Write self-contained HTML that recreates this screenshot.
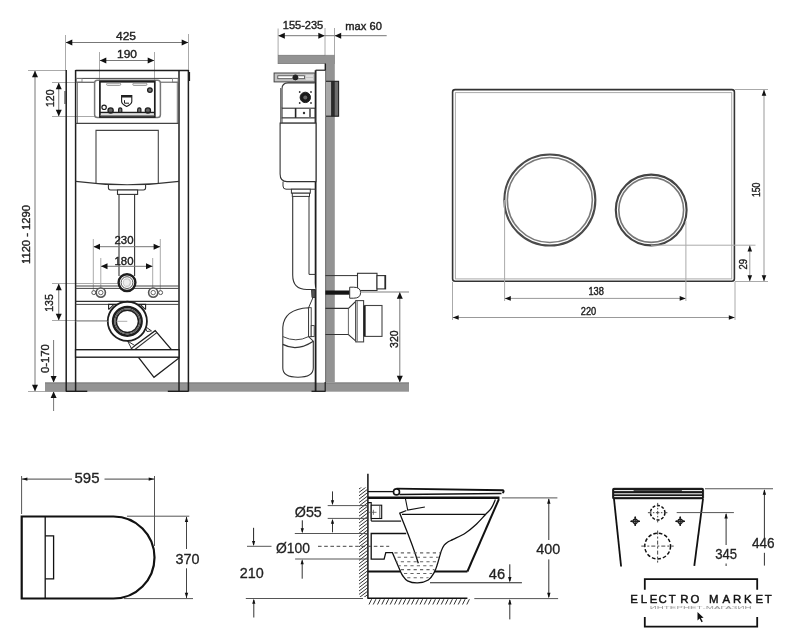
<!DOCTYPE html>
<html><head><meta charset="utf-8"><style>
html,body{margin:0;padding:0;background:#fff;width:795px;height:640px;overflow:hidden}
svg{display:block;will-change:transform;filter:blur(0.3px)}
</style></head><body>
<svg width="795" height="640" viewBox="0 0 795 640">
<defs>
<clipPath id="wallclip"><rect x="358.8" y="487.5" width="8.6" height="109.5"/></clipPath>
<clipPath id="waterclip"><path d="M391,551 L392.4,552.7 L400.5,571.5 C402,575 406,581 417.7,582.5 C428,581 433,574 437,564.5 L440.6,551 Z"/></clipPath>
</defs>
<line x1="65.5" y1="35" x2="65.5" y2="70" stroke="#aaa" stroke-width="1" />
<line x1="188.5" y1="34" x2="188.5" y2="70" stroke="#aaa" stroke-width="1" />
<line x1="66" y1="42.5" x2="188" y2="42.5" stroke="#777" stroke-width="1" />
<polygon points="65.8,42.5 72.3,39.5 72.3,45.5" fill="#111" stroke="none" stroke-width="0"/>
<polygon points="188.2,42.5 181.7,39.5 181.7,45.5" fill="#111" stroke="none" stroke-width="0"/>
<text x="126" y="39.6" font-family="Liberation Sans" font-size="11.5" text-anchor="middle" fill="#222" textLength="20" lengthAdjust="spacingAndGlyphs"  stroke="#222" stroke-width="0.4">425</text>
<line x1="99.5" y1="52" x2="99.5" y2="82" stroke="#aaa" stroke-width="1" />
<line x1="154.5" y1="52" x2="154.5" y2="82" stroke="#aaa" stroke-width="1" />
<line x1="100" y1="60.5" x2="154" y2="60.5" stroke="#777" stroke-width="1" />
<polygon points="99.8,60.5 106.3,57.5 106.3,63.5" fill="#111" stroke="none" stroke-width="0"/>
<polygon points="154.2,60.5 147.7,57.5 147.7,63.5" fill="#111" stroke="none" stroke-width="0"/>
<text x="127" y="57.8" font-family="Liberation Sans" font-size="11.5" text-anchor="middle" fill="#222" textLength="20" lengthAdjust="spacingAndGlyphs"  stroke="#222" stroke-width="0.4">190</text>
<line x1="28" y1="70.5" x2="66" y2="70.5" stroke="#aaa" stroke-width="1" />
<line x1="28" y1="391.5" x2="66" y2="391.5" stroke="#aaa" stroke-width="1" />
<line x1="35" y1="71" x2="35" y2="391" stroke="#777" stroke-width="1" />
<polygon points="35,70.8 32.0,77.3 38.0,77.3" fill="#111" stroke="none" stroke-width="0"/>
<polygon points="35,391.2 32.0,384.7 38.0,384.7" fill="#111" stroke="none" stroke-width="0"/>
<text x="30.3" y="234.5" font-family="Liberation Sans" font-size="11.5" text-anchor="middle" fill="#222" textLength="59" lengthAdjust="spacingAndGlyphs" transform="rotate(-90 30.3 234.5)"  stroke="#222" stroke-width="0.4">1120 - 1290</text>
<line x1="52" y1="82.5" x2="96" y2="82.5" stroke="#aaa" stroke-width="1" />
<line x1="52" y1="116.5" x2="96" y2="116.5" stroke="#aaa" stroke-width="1" />
<line x1="58.75" y1="83" x2="58.75" y2="116" stroke="#777" stroke-width="1" />
<polygon points="58.75,82.7 55.75,89.2 61.75,89.2" fill="#111" stroke="none" stroke-width="0"/>
<polygon points="58.75,116.3 55.75,109.8 61.75,109.8" fill="#111" stroke="none" stroke-width="0"/>
<text x="54.2" y="98.2" font-family="Liberation Sans" font-size="11.5" text-anchor="middle" fill="#222" textLength="17.5" lengthAdjust="spacingAndGlyphs" transform="rotate(-90 54.2 98.2)"  stroke="#222" stroke-width="0.4">120</text>
<line x1="52" y1="283.5" x2="118" y2="283.5" stroke="#aaa" stroke-width="1" />
<line x1="52" y1="320.5" x2="125" y2="320.5" stroke="#aaa" stroke-width="1" />
<line x1="58.75" y1="284" x2="58.75" y2="320" stroke="#777" stroke-width="1" />
<polygon points="58.75,283.7 55.75,290.2 61.75,290.2" fill="#111" stroke="none" stroke-width="0"/>
<polygon points="58.75,320.3 55.75,313.8 61.75,313.8" fill="#111" stroke="none" stroke-width="0"/>
<text x="53.4" y="303" font-family="Liberation Sans" font-size="11.5" text-anchor="middle" fill="#222" textLength="17.5" lengthAdjust="spacingAndGlyphs" transform="rotate(-90 53.4 303)"  stroke="#222" stroke-width="0.4">135</text>
<line x1="53.6" y1="340" x2="53.6" y2="382" stroke="#777" stroke-width="1" />
<polygon points="53.6,382.5 50.6,376.0 56.6,376.0" fill="#111" stroke="none" stroke-width="0"/>
<line x1="53.6" y1="392" x2="53.6" y2="411" stroke="#777" stroke-width="1" />
<polygon points="53.6,391.5 50.6,398.0 56.6,398.0" fill="#111" stroke="none" stroke-width="0"/>
<text x="49" y="358.6" font-family="Liberation Sans" font-size="11.5" text-anchor="middle" fill="#222" textLength="29" lengthAdjust="spacingAndGlyphs" transform="rotate(-90 49 358.6)"  stroke="#222" stroke-width="0.4">0-170</text>
<rect x="45" y="382.5" width="364" height="9.2" fill="#939393"/>
<line x1="45" y1="383" x2="409" y2="383" stroke="#7d7d7d" stroke-width="1" />
<line x1="66.2" y1="70" x2="66.2" y2="391.5" stroke="#1e1e1e" stroke-width="1.5" />
<line x1="75.6" y1="70" x2="75.6" y2="391.5" stroke="#1e1e1e" stroke-width="1.5" />
<line x1="179" y1="70" x2="179" y2="391.5" stroke="#1e1e1e" stroke-width="1.5" />
<line x1="188.4" y1="70" x2="188.4" y2="391.5" stroke="#1e1e1e" stroke-width="1.5" />
<line x1="77.4" y1="82.2" x2="77.4" y2="123.4" stroke="#666" stroke-width="0.9" />
<line x1="177.3" y1="82.2" x2="177.3" y2="123.4" stroke="#666" stroke-width="0.9" />
<line x1="75.6" y1="70.5" x2="188.5" y2="70.5" stroke="#1e1e1e" stroke-width="1.6" />
<line x1="189.3" y1="72" x2="189.3" y2="81" stroke="#1e1e1e" stroke-width="1.6" />
<line x1="65" y1="91" x2="65" y2="104" stroke="#444" stroke-width="1.2" />
<line x1="75.6" y1="78.4" x2="179" y2="78.4" stroke="#444" stroke-width="1" />
<line x1="75.6" y1="82.2" x2="94" y2="82.2" stroke="#555" stroke-width="1" />
<line x1="161" y1="82.2" x2="179" y2="82.2" stroke="#555" stroke-width="1" />
<rect x="76.5" y="78.4" width="5.5" height="3.8" rx="0" fill="none" stroke="#777" stroke-width="0.8" />
<rect x="172.5" y="78.4" width="5.5" height="3.8" rx="0" fill="none" stroke="#777" stroke-width="0.8" />
<rect x="94.6" y="80.3" width="65.8" height="37.2" rx="2.8" fill="#fff" stroke="#777" stroke-width="1.5" />
<rect x="99.9" y="81.4" width="54.9" height="35.6" rx="0" fill="#fff" stroke="#1e1e1e" stroke-width="1.7" />
<line x1="100" y1="81.9" x2="154.6" y2="81.9" stroke="#1e1e1e" stroke-width="1.4" />
<rect x="106.6" y="83.2" width="14.1" height="2.2" rx="1" fill="#f4f4f4" stroke="#888" stroke-width="0.9" />
<rect x="132.8" y="83.2" width="14.1" height="2.2" rx="1" fill="#f4f4f4" stroke="#888" stroke-width="0.9" />
<circle cx="149.9" cy="90.1" r="2.3" fill="#777" stroke="#1e1e1e" stroke-width="1.3" />
<path d="M121.6,95.6 h10.2 v6 q0,2.6 -5.1,4.9 q-5.1,-2.3 -5.1,-4.9 z" fill="#fff" stroke="#1e1e1e" stroke-width="1.1" />
<rect x="121.6" y="95.6" width="10.2" height="1.9" rx="0" fill="#222" stroke="none" stroke-width="0" />
<path d="M124.5,100.2 v3 h4.5" fill="none" stroke="#1e1e1e" stroke-width="1.0" />
<circle cx="104.1" cy="107.3" r="2.2" fill="#fff" stroke="#1e1e1e" stroke-width="1.2" />
<circle cx="110.6" cy="110.5" r="2.6" fill="#666" stroke="#1e1e1e" stroke-width="1.3" />
<path d="M118.6,112 v-2.6 a1.6,1.6 0 0 1 3.2,0 v2.6" fill="#777" stroke="#1e1e1e" stroke-width="1.2" />
<path d="M137.7,112 v-2.6 a1.6,1.6 0 0 1 3.2,0 v2.6" fill="#777" stroke="#1e1e1e" stroke-width="1.2" />
<circle cx="147.9" cy="110.5" r="2.6" fill="#666" stroke="#1e1e1e" stroke-width="1.3" />
<line x1="100" y1="112.5" x2="154.6" y2="112.5" stroke="#1e1e1e" stroke-width="1.3" />
<line x1="100" y1="115.3" x2="154.6" y2="115.3" stroke="#666" stroke-width="1" />
<line x1="75.6" y1="123.4" x2="179" y2="123.4" stroke="#444" stroke-width="1.1" />
<path d="M96,183.2 V130.4 H158.3 V183.2" fill="#fff" stroke="#444" stroke-width="1.1" />
<path d="M75.6,181.3 Q127,188.2 179,181.3" fill="none" stroke="#333" stroke-width="1.2" />
<path d="M108.4,184.3 v3.5 q0,2.2 2.2,2.2 h32.8 q2.2,0 2.2,-2.2 v-3.5" fill="none" stroke="#333" stroke-width="1.1" />
<rect x="117.5" y="190" width="20.1" height="4.4" rx="0" fill="#fff" stroke="#333" stroke-width="1.1" />
<line x1="119" y1="194.4" x2="119" y2="276" stroke="#333" stroke-width="1.1" />
<line x1="134.6" y1="194.4" x2="134.6" y2="276" stroke="#333" stroke-width="1.1" />
<line x1="93.3" y1="239" x2="93.3" y2="292" stroke="#aaa" stroke-width="1" />
<line x1="160.3" y1="239" x2="160.3" y2="292" stroke="#aaa" stroke-width="1" />
<line x1="94" y1="246.7" x2="160" y2="246.7" stroke="#777" stroke-width="1" />
<polygon points="93.5,246.7 100.0,243.7 100.0,249.7" fill="#111" stroke="none" stroke-width="0"/>
<polygon points="160.1,246.7 153.6,243.7 153.6,249.7" fill="#111" stroke="none" stroke-width="0"/>
<text x="124" y="243.9" font-family="Liberation Sans" font-size="11.5" text-anchor="middle" fill="#222" textLength="19" lengthAdjust="spacingAndGlyphs"  stroke="#222" stroke-width="0.4">230</text>
<line x1="100.8" y1="258" x2="100.8" y2="292" stroke="#aaa" stroke-width="1" />
<line x1="152.7" y1="258" x2="152.7" y2="292" stroke="#aaa" stroke-width="1" />
<line x1="101" y1="266.3" x2="152.5" y2="266.3" stroke="#777" stroke-width="1" />
<polygon points="101,266.3 107.5,263.3 107.5,269.3" fill="#111" stroke="none" stroke-width="0"/>
<polygon points="152.5,266.3 146.0,263.3 146.0,269.3" fill="#111" stroke="none" stroke-width="0"/>
<text x="124" y="264.8" font-family="Liberation Sans" font-size="11.5" text-anchor="middle" fill="#222" textLength="19" lengthAdjust="spacingAndGlyphs"  stroke="#222" stroke-width="0.4">180</text>
<line x1="75.6" y1="286.0" x2="179" y2="286.0" stroke="#444" stroke-width="1" />
<line x1="75.6" y1="288.4" x2="179" y2="288.4" stroke="#444" stroke-width="1" />
<line x1="75.6" y1="301.4" x2="179" y2="301.4" stroke="#333" stroke-width="1.3" />
<line x1="75.6" y1="304.4" x2="179" y2="304.4" stroke="#444" stroke-width="1" />
<circle cx="127" cy="282.6" r="8.4" fill="#fff" stroke="#1e1e1e" stroke-width="2.4" />
<circle cx="127" cy="282.6" r="5.9" fill="#fff" stroke="#555" stroke-width="1" />
<circle cx="127" cy="282.6" r="4.3" fill="#c8c8c8" stroke="none" stroke-width="0" />
<path d="M124.5,280 L128,279.2 L130,282 L128.5,285.5 L125,285.8 L123.6,283 Z" fill="#eee" stroke="none" stroke-width="0" />
<circle cx="93.8" cy="292.6" r="2.0" fill="#fff" stroke="#555" stroke-width="1" />
<circle cx="100.8" cy="292.6" r="4.6" fill="#fff" stroke="#555" stroke-width="1.6" />
<circle cx="100.8" cy="292.6" r="2.2" fill="#fff" stroke="#666" stroke-width="1" />
<circle cx="160.6" cy="292.6" r="2.0" fill="#fff" stroke="#555" stroke-width="1" />
<circle cx="153.2" cy="292.6" r="4.6" fill="#fff" stroke="#555" stroke-width="1.6" />
<circle cx="153.2" cy="292.6" r="2.2" fill="#fff" stroke="#666" stroke-width="1" />
<polygon points="131.3,348.2 155.2,330.7 178.7,358.2 154,377.3" fill="#fff" stroke="#1e1e1e" stroke-width="1.3"/>
<line x1="133.6" y1="350.5" x2="156.8" y2="332.6" stroke="#333" stroke-width="1.1" />
<polygon points="144.5,326 151.5,330.9 147,331.5" fill="#fff" stroke="#333" stroke-width="1"/>
<polygon points="127.6,341 131.3,348.2 134.8,345.6" fill="#fff" stroke="#333" stroke-width="1"/>
<path d="M108.6,309.6 V304.4 H145.6 V309.6 M108.6,309.6 L114,304.4 M145.6,309.6 L140.2,304.4" fill="none" stroke="#222" stroke-width="1.1" />
<circle cx="127.35" cy="321.35" r="19.6" fill="#fff" stroke="#1e1e1e" stroke-width="1.8" />
<circle cx="127.35" cy="321.35" r="14.3" fill="#fff" stroke="#1e1e1e" stroke-width="2.5" />
<circle cx="127.35" cy="321.35" r="12.5" fill="none" stroke="#555" stroke-width="1.1" />
<circle cx="127.35" cy="321.35" r="11.1" fill="#fff" stroke="#1e1e1e" stroke-width="1.5" />
<line x1="75.6" y1="321.3" x2="107.7" y2="321.3" stroke="#999" stroke-width="0.8" />
<line x1="116.5" y1="321.3" x2="127.3" y2="321.3" stroke="#999" stroke-width="0.8" />
<rect x="75.6" y="349.7" width="103.4" height="7.5" rx="0" fill="#fff" stroke="#1e1e1e" stroke-width="1.4" />
<line x1="66" y1="391.3" x2="87.3" y2="391.3" stroke="#1e1e1e" stroke-width="1.4" />
<line x1="167.8" y1="391.3" x2="188.5" y2="391.3" stroke="#1e1e1e" stroke-width="1.4" />
<line x1="278.1" y1="28.5" x2="278.1" y2="55" stroke="#aaa" stroke-width="1" />
<line x1="325" y1="28" x2="325" y2="70" stroke="#aaa" stroke-width="1" />
<line x1="334.5" y1="28" x2="334.5" y2="55" stroke="#aaa" stroke-width="1" />
<line x1="278.5" y1="35.7" x2="324.6" y2="35.7" stroke="#777" stroke-width="1" />
<polygon points="278.3,35.7 284.8,32.7 284.8,38.7" fill="#111" stroke="none" stroke-width="0"/>
<polygon points="324.8,35.7 318.3,32.7 318.3,38.7" fill="#111" stroke="none" stroke-width="0"/>
<line x1="334.8" y1="35.7" x2="386.7" y2="35.7" stroke="#777" stroke-width="1" />
<polygon points="334.7,35.7 341.2,32.7 341.2,38.7" fill="#111" stroke="none" stroke-width="0"/>
<line x1="325" y1="35.7" x2="334.5" y2="35.7" stroke="#777" stroke-width="1" />
<text x="303" y="29.4" font-family="Liberation Sans" font-size="11.5" text-anchor="middle" fill="#222" textLength="40.5" lengthAdjust="spacingAndGlyphs"  stroke="#222" stroke-width="0.4">155-235</text>
<text x="363.6" y="29.9" font-family="Liberation Sans" font-size="11.5" text-anchor="middle" fill="#222" textLength="36.5" lengthAdjust="spacingAndGlyphs"  stroke="#222" stroke-width="0.4">max 60</text>
<rect x="278.1" y="55.3" width="56.4" height="8.3" rx="0" fill="#939393" stroke="#7a7a7a" stroke-width="0.8" />
<rect x="325.4" y="55" width="9.4" height="327.5" fill="#939393"/>
<line x1="325.4" y1="63.6" x2="325.4" y2="382.5" stroke="#1e1e1e" stroke-width="1.3" />
<rect x="325.4" y="81.1" width="5.7" height="35.3" fill="#a8a8a8"/>
<rect x="331.1" y="81.1" width="3.8" height="35.3" fill="#2a2a2a"/>
<rect x="334.9" y="81.1" width="3.7" height="35.3" fill="#6e6e6e"/>
<rect x="325.4" y="81.3" width="13.2" height="34.9" rx="0" fill="none" stroke="#222" stroke-width="1.1" />
<rect x="315.6" y="70.2" width="9.8" height="312.3" fill="#fff"/>
<line x1="315.6" y1="70.2" x2="325.4" y2="70.2" stroke="#1e1e1e" stroke-width="1.2" />
<line x1="315.6" y1="70.2" x2="315.6" y2="391.5" stroke="#1e1e1e" stroke-width="1.8" />
<line x1="325.2" y1="382" x2="325.2" y2="391.5" stroke="#1e1e1e" stroke-width="1.2" />
<line x1="311.5" y1="391.3" x2="325.4" y2="391.3" stroke="#1e1e1e" stroke-width="1.3" />
<rect x="274.1" y="73" width="40.8" height="8.9" rx="0" fill="#c4c4c4" stroke="#444" stroke-width="1" />
<rect x="277.8" y="75.8" width="26.8" height="2.9" rx="0" fill="#fff" stroke="#444" stroke-width="0.8" />
<circle cx="295.4" cy="77.4" r="2.5" fill="#222" stroke="#1e1e1e" stroke-width="1" />
<line x1="306" y1="76" x2="313" y2="76" stroke="#eee" stroke-width="1.2" />
<line x1="306" y1="79" x2="313" y2="79" stroke="#eee" stroke-width="1.2" />
<path d="M282,108.2 V89 Q282,82.9 288,82.9 H315" fill="#fff" stroke="#333" stroke-width="1.1" />
<line x1="280.7" y1="88" x2="280.7" y2="126" stroke="#555" stroke-width="1" />
<circle cx="305.3" cy="97.4" r="5.2" fill="#1a1a1a" stroke="#1e1e1e" stroke-width="1" />
<circle cx="305.3" cy="97.4" r="2" fill="#666" stroke="none" stroke-width="0" />
<circle cx="299.7" cy="92" r="0.9" fill="#333" stroke="none" stroke-width="0" />
<circle cx="311" cy="92" r="0.9" fill="#333" stroke="none" stroke-width="0" />
<circle cx="299.7" cy="103" r="0.9" fill="#333" stroke="none" stroke-width="0" />
<circle cx="311" cy="103" r="0.9" fill="#333" stroke="none" stroke-width="0" />
<rect x="282" y="108.2" width="33" height="9.8" rx="0" fill="#fff" stroke="#333" stroke-width="1.1" />
<line x1="295.6" y1="108.2" x2="295.6" y2="118" stroke="#222" stroke-width="1.6" />
<circle cx="304" cy="113" r="1.2" fill="#333" stroke="none" stroke-width="0" />
<line x1="310" y1="109" x2="310" y2="117" stroke="#333" stroke-width="1.4" />
<rect x="282" y="118" width="33" height="5.2" rx="0" fill="#fff" stroke="#444" stroke-width="1" />
<path d="M280.1,123.1 H316 V181.6 H287 Q280.1,181.6 280.1,174 Z" fill="#fff" stroke="#333" stroke-width="1.1" />
<path d="M283,181.6 V186 Q283,189.2 286,189.2 H316" fill="none" stroke="#333" stroke-width="1" />
<rect x="291.4" y="189.2" width="18.9" height="4" rx="0" fill="#fff" stroke="#333" stroke-width="1" />
<rect x="292.3" y="193.2" width="17.2" height="3.2" rx="0" fill="#fff" stroke="#333" stroke-width="1" />
<path d="M292.7,196.4 V275 Q292.7,289.5 307,289.5 H315.6" fill="#fff" stroke="#333" stroke-width="1.1" />
<path d="M309,196.4 V274.4 H315.6" fill="none" stroke="#333" stroke-width="1" />
<line x1="325.4" y1="275.6" x2="357.5" y2="275.6" stroke="#333" stroke-width="1" />
<rect x="357.5" y="273.3" width="19.5" height="17.2" rx="0" fill="#fff" stroke="#333" stroke-width="1.1" />
<rect x="377" y="275.6" width="8.6" height="13.3" rx="0" fill="#fff" stroke="#333" stroke-width="1.1" />
<line x1="385" y1="275.6" x2="385" y2="289" stroke="#1e1e1e" stroke-width="1.2" />
<rect x="325.4" y="290.5" width="24.3" height="4.2" fill="#151515"/>
<path d="M349.7,287.2 h4 q6.9,0 6.9,5.5 q0,5.5 -6.9,5.5 h-4 z" fill="#fff" stroke="#333" stroke-width="1" />
<line x1="360.6" y1="292" x2="409" y2="292" stroke="#999" stroke-width="0.9" />
<rect x="334.8" y="308.4" width="14.5" height="25.8" fill="#fff"/>
<path d="M325.4,308.4 H348.4 L355.8,301.3 V341.1 L348.4,334.5 H325.4" fill="none" stroke="#333" stroke-width="1.1" />
<line x1="348.4" y1="308.4" x2="348.4" y2="334.5" stroke="#555" stroke-width="0.9" />
<rect x="355.8" y="300.6" width="7.8" height="41.3" rx="0" fill="#fff" stroke="#444" stroke-width="1.1" />
<line x1="357.4" y1="301" x2="357.4" y2="341.5" stroke="#666" stroke-width="0.8" />
<rect x="364.6" y="305.5" width="17.4" height="30.9" rx="0" fill="#fff" stroke="#444" stroke-width="1.1" />
<line x1="364.6" y1="305.8" x2="364.6" y2="336.2" stroke="#1e1e1e" stroke-width="2.0" />
<path d="M308.6,307.7 Q284,309 282.8,327.2 V368 Q282.8,377.2 298,377.2 Q313.3,377.2 313.3,368 V341.2 L308.6,336.6 Z" fill="#fff" stroke="#333" stroke-width="1.1" />
<path d="M282.8,336.6 Q296,343 308.6,336.6" fill="none" stroke="#444" stroke-width="1" />
<path d="M282.8,344.4 Q297,352 313.3,341.2" fill="none" stroke="#333" stroke-width="1.3" />
<rect x="308.6" y="307.7" width="2.6" height="29" rx="0" fill="#fff" stroke="#333" stroke-width="0.9" />
<rect x="311.2" y="325.6" width="3" height="11" rx="0" fill="#fff" stroke="#333" stroke-width="0.9" />
<path d="M311.5,289.7 L315,290 L315,297.5 L312,297.5 Z" fill="#555" stroke="#333" stroke-width="0.9" />
<line x1="313" y1="297.5" x2="308.6" y2="307.7" stroke="#333" stroke-width="1" />
<line x1="361" y1="292" x2="409" y2="292" stroke="#aaa" stroke-width="0.9" />
<line x1="399.8" y1="292.5" x2="399.8" y2="382" stroke="#777" stroke-width="1" />
<polygon points="399.8,292.2 396.8,298.7 402.8,298.7" fill="#111" stroke="none" stroke-width="0"/>
<polygon points="399.8,382.3 396.8,375.8 402.8,375.8" fill="#111" stroke="none" stroke-width="0"/>
<text x="398" y="339.2" font-family="Liberation Sans" font-size="11.5" text-anchor="middle" fill="#222" textLength="17.5" lengthAdjust="spacingAndGlyphs" transform="rotate(-90 398 339.2)"  stroke="#222" stroke-width="0.4">320</text>
<rect x="452.6" y="89.6" width="281.8" height="191.7" rx="2.5" fill="#fff" stroke="#333" stroke-width="1.6" />
<rect x="455.4" y="92.6" width="276.3" height="186.3" rx="0" fill="none" stroke="#aaa" stroke-width="1" />
<circle cx="549.85" cy="200" r="45.5" fill="none" stroke="#4a4a4a" stroke-width="2.1" />
<circle cx="549.85" cy="200" r="42.5" fill="none" stroke="#7a7a7a" stroke-width="1.6" />
<circle cx="651.2" cy="210" r="35.4" fill="none" stroke="#444" stroke-width="2.1" />
<circle cx="651.2" cy="210" r="32.4" fill="none" stroke="#777" stroke-width="1.6" />
<line x1="735" y1="89.5" x2="768" y2="89.5" stroke="#aaa" stroke-width="1" />
<line x1="735" y1="281.5" x2="768" y2="281.5" stroke="#aaa" stroke-width="1" />
<line x1="764" y1="90" x2="764" y2="281" stroke="#999" stroke-width="1" />
<polygon points="764,89.8 761.7,95.8 766.3,95.8" fill="#111" stroke="none" stroke-width="0"/>
<polygon points="764,281.2 761.7,275.2 766.3,275.2" fill="#111" stroke="none" stroke-width="0"/>
<text x="759.6" y="189.8" font-family="Liberation Sans" font-size="10.5" text-anchor="middle" fill="#222" textLength="14.5" lengthAdjust="spacingAndGlyphs" transform="rotate(-90 759.6 189.8)"  stroke="#222" stroke-width="0.4">150</text>
<line x1="651" y1="245.2" x2="755.5" y2="245.2" stroke="#aaa" stroke-width="1" />
<line x1="749.8" y1="245.5" x2="749.8" y2="281" stroke="#999" stroke-width="1" />
<polygon points="749.8,245.4 747.5,251.4 752.0999999999999,251.4" fill="#111" stroke="none" stroke-width="0"/>
<polygon points="749.8,281.2 747.5,275.2 752.0999999999999,275.2" fill="#111" stroke="none" stroke-width="0"/>
<text x="746.8" y="264.2" font-family="Liberation Sans" font-size="11" text-anchor="middle" fill="#222" textLength="10.5" lengthAdjust="spacingAndGlyphs" transform="rotate(-90 746.8 264.2)"  stroke="#222" stroke-width="0.4">29</text>
<line x1="504.6" y1="200" x2="504.6" y2="301" stroke="#aaa" stroke-width="1" />
<line x1="685.9" y1="221" x2="685.9" y2="301" stroke="#aaa" stroke-width="1" />
<line x1="505" y1="298.4" x2="685.5" y2="298.4" stroke="#999" stroke-width="1" />
<polygon points="504.8,298.4 510.8,296.09999999999997 510.8,300.7" fill="#111" stroke="none" stroke-width="0"/>
<polygon points="685.7,298.4 679.7,296.09999999999997 679.7,300.7" fill="#111" stroke="none" stroke-width="0"/>
<text x="596.2" y="294.9" font-family="Liberation Sans" font-size="10.5" text-anchor="middle" fill="#222" textLength="15.5" lengthAdjust="spacingAndGlyphs"  stroke="#222" stroke-width="0.4">138</text>
<line x1="452.5" y1="282" x2="452.5" y2="320" stroke="#aaa" stroke-width="1" />
<line x1="735" y1="282" x2="735" y2="320" stroke="#aaa" stroke-width="1" />
<line x1="453" y1="317.5" x2="734.5" y2="317.5" stroke="#999" stroke-width="1" />
<polygon points="452.7,317.5 458.7,315.2 458.7,319.8" fill="#111" stroke="none" stroke-width="0"/>
<polygon points="734.8,317.5 728.8,315.2 728.8,319.8" fill="#111" stroke="none" stroke-width="0"/>
<text x="588.5" y="314.6" font-family="Liberation Sans" font-size="10.5" text-anchor="middle" fill="#222" textLength="15.5" lengthAdjust="spacingAndGlyphs"  stroke="#222" stroke-width="0.4">220</text>
<line x1="21.6" y1="476" x2="21.6" y2="514" stroke="#555" stroke-width="1" />
<line x1="154.5" y1="476" x2="154.5" y2="546" stroke="#555" stroke-width="1" />
<line x1="22" y1="479.1" x2="72" y2="479.1" stroke="#444" stroke-width="1" />
<line x1="104.5" y1="479.1" x2="154" y2="479.1" stroke="#444" stroke-width="1" />
<polygon points="21.9,479.1 27.4,477.40000000000003 27.4,480.8" fill="#111" stroke="none" stroke-width="0"/>
<polygon points="154.2,479.1 148.7,477.40000000000003 148.7,480.8" fill="#111" stroke="none" stroke-width="0"/>
<text x="87" y="483.2" font-family="Liberation Sans" font-size="15.5" text-anchor="middle" fill="#222" textLength="25" lengthAdjust="spacingAndGlyphs"  stroke="#222" stroke-width="0.3">595</text>
<path d="M21.7,516.5 H113.5 A41,41 0 0 1 113.5,598.5 H21.7 Z" fill="none" stroke="#111" stroke-width="2.2" />
<line x1="45.2" y1="516.5" x2="45.2" y2="598.5" stroke="#111" stroke-width="1.3" />
<path d="M45.2,535.8 H53.6 V578.9 H45.2" fill="none" stroke="#111" stroke-width="1.3" />
<line x1="127" y1="516.2" x2="189.3" y2="516.2" stroke="#555" stroke-width="1" />
<line x1="124" y1="598.6" x2="193" y2="598.6" stroke="#555" stroke-width="1" />
<line x1="186.5" y1="517" x2="186.5" y2="549" stroke="#444" stroke-width="1" />
<line x1="186.5" y1="568.3" x2="186.5" y2="598" stroke="#444" stroke-width="1" />
<polygon points="186.5,516.6 184.8,522.1 188.2,522.1" fill="#111" stroke="none" stroke-width="0"/>
<polygon points="186.5,598.2 184.8,592.7 188.2,592.7" fill="#111" stroke="none" stroke-width="0"/>
<text x="187.5" y="564" font-family="Liberation Sans" font-size="15.5" text-anchor="middle" fill="#222" textLength="24" lengthAdjust="spacingAndGlyphs"  stroke="#222" stroke-width="0.3">370</text>
<path d="M359,489.0 L367.5,482.5 M359,492.4 L367.5,485.9 M359,495.8 L367.5,489.3 M359,499.2 L367.5,492.7 M359,502.6 L367.5,496.1 M359,506.0 L367.5,499.5 M359,509.4 L367.5,502.9 M359,512.8 L367.5,506.3 M359,516.2 L367.5,509.7 M359,519.6 L367.5,513.1 M359,523.0 L367.5,516.5 M359,526.4 L367.5,519.9 M359,529.8 L367.5,523.3 M359,533.2 L367.5,526.7 M359,536.6 L367.5,530.1 M359,540.0 L367.5,533.5 M359,543.4 L367.5,536.9 M359,546.8 L367.5,540.3 M359,550.2 L367.5,543.7 M359,553.6 L367.5,547.1 M359,557.0 L367.5,550.5 M359,560.4 L367.5,553.9 M359,563.8 L367.5,557.3 M359,567.2 L367.5,560.7 M359,570.6 L367.5,564.1 M359,574.0 L367.5,567.5 M359,577.4 L367.5,570.9 M359,580.8 L367.5,574.3 M359,584.2 L367.5,577.7 M359,587.6 L367.5,581.1 M359,591.0 L367.5,584.5 M359,594.4 L367.5,587.9 M359,597.8 L367.5,591.3 M359,601.2 L367.5,594.7 M359,604.6 L367.5,598.1 M359,608.0 L367.5,601.5" fill="none" stroke="#333" stroke-width="1.0" clip-path="url(#wallclip)"/>
<line x1="367.9" y1="473.8" x2="367.9" y2="598.8" stroke="#111" stroke-width="1.5" />
<line x1="367.8" y1="598.3" x2="467.4" y2="598.3" stroke="#111" stroke-width="1.4" />
<path d="M369.0,604.5 L371.6,599.2 M373.2,604.5 L375.9,599.2 M377.5,604.5 L380.1,599.2 M381.8,604.5 L384.4,599.2 M386.0,604.5 L388.6,599.2 M390.2,604.5 L392.9,599.2 M394.5,604.5 L397.1,599.2 M398.8,604.5 L401.4,599.2 M403.0,604.5 L405.6,599.2 M407.2,604.5 L409.9,599.2 M411.5,604.5 L414.1,599.2 M415.8,604.5 L418.4,599.2 M420.0,604.5 L422.6,599.2 M424.2,604.5 L426.9,599.2 M428.5,604.5 L431.1,599.2 M432.8,604.5 L435.4,599.2 M437.0,604.5 L439.6,599.2 M441.2,604.5 L443.9,599.2 M445.5,604.5 L448.1,599.2 M449.8,604.5 L452.4,599.2 M454.0,604.5 L456.6,599.2 M458.2,604.5 L460.9,599.2 M462.5,604.5 L465.1,599.2 M466.8,604.5 L469.4,599.2" fill="none" stroke="#333" stroke-width="1" />
<line x1="368" y1="491.6" x2="393" y2="491.6" stroke="#111" stroke-width="1.3" />
<path d="M396.5,488.6 L503,490.3 Q504.5,491.5 502.5,493" fill="none" stroke="#111" stroke-width="1.9" />
<path d="M399.5,494.6 L501.5,493.6" fill="none" stroke="#111" stroke-width="1.5" />
<line x1="368" y1="497.8" x2="499.5" y2="497.8" stroke="#111" stroke-width="2.4" />
<circle cx="396.5" cy="491.9" r="3.0" fill="#fff" stroke="#111" stroke-width="1.6" />
<path d="M405.5,499 L407.7,510.1 L424.9,507" fill="none" stroke="#111" stroke-width="1.1" />
<path d="M406.4,510.5 L399.8,513.2 C403,522 412,542 418.3,563.2" fill="none" stroke="#111" stroke-width="1.3" />
<line x1="402" y1="514.3" x2="485.3" y2="514.3" stroke="#111" stroke-width="1.2" />
<path d="M498.9,499.1 L467.4,571.5" fill="none" stroke="#111" stroke-width="2.0" />
<path d="M495.4,499.5 C494.72,500.95 492.98,505.67 491.30,508.20 C489.62,510.73 487.98,511.85 485.30,514.70 C482.62,517.55 478.55,522.20 475.20,525.30 C471.85,528.40 468.88,530.95 465.20,533.30 C461.52,535.65 456.05,537.92 453.10,539.40 C450.15,540.88 448.98,541.23 447.50,542.20 C446.02,543.17 445.22,543.80 444.20,545.20 C443.18,546.60 442.55,547.38 441.40,550.60 C440.25,553.82 438.52,560.82 437.30,564.50 C436.08,568.18 435.60,570.12 434.10,572.70 C432.60,575.28 431.03,578.30 428.30,580.00 C425.57,581.70 421.17,582.77 417.70,582.90 C414.23,583.03 410.02,582.03 407.50,580.80 C404.98,579.57 403.77,577.05 402.60,575.50 C401.43,573.95 400.85,572.17 400.50,571.50 L392.4,552.7 H385.8 L384.1,559.1 H371.2 V533.5 H406.2" fill="none" stroke="#111" stroke-width="1.3" />
<path d="M368,502.6 H371.2 V521.1" fill="none" stroke="#111" stroke-width="1.1" />
<rect x="371.2" y="505.2" width="10.5" height="13.3" rx="0" fill="#fff" stroke="#111" stroke-width="1.1" />
<line x1="379.8" y1="505.5" x2="379.8" y2="518.2" stroke="#444" stroke-width="0.9" />
<line x1="368" y1="512.3" x2="376.5" y2="512.3" stroke="#555" stroke-width="0.8" />
<line x1="373.4" y1="509.8" x2="373.4" y2="514.8" stroke="#555" stroke-width="0.8" />
<line x1="371.2" y1="521.1" x2="401.1" y2="521.1" stroke="#111" stroke-width="1.2" />
<line x1="367.9" y1="571.5" x2="400.8" y2="571.5" stroke="#111" stroke-width="2.0" />
<line x1="434.0" y1="571.5" x2="467.4" y2="571.5" stroke="#111" stroke-width="2.0" />
<path d="M388,552.9 H446 M391.2,557.3 H446 M388,561.7 H446 M391.2,565.8 H446 M388,569.6 H446 M391.2,573.5 H446 M388,577.8 H446" fill="none" stroke="#666" stroke-width="1.1" stroke-dasharray="3.2 3.2" clip-path="url(#waterclip)"/>
<line x1="318" y1="546.3" x2="389.2" y2="546.3" stroke="#444" stroke-width="1" stroke-dasharray="3.6 2.6"/>
<line x1="327.7" y1="505.6" x2="367" y2="505.6" stroke="#555" stroke-width="1" />
<line x1="327.7" y1="518.4" x2="367" y2="518.4" stroke="#555" stroke-width="1" />
<line x1="332.5" y1="491.4" x2="332.5" y2="504" stroke="#333" stroke-width="1" />
<polygon points="332.5,505.3 330.9,500.3 334.1,500.3" fill="#111" stroke="none" stroke-width="0"/>
<line x1="332.5" y1="520" x2="332.5" y2="532.3" stroke="#333" stroke-width="1" />
<polygon points="332.5,518.7 330.9,523.7 334.1,523.7" fill="#111" stroke="none" stroke-width="0"/>
<text x="308.3" y="517.1" font-family="Liberation Sans" font-size="15" text-anchor="middle" fill="#222" textLength="27" lengthAdjust="spacingAndGlyphs"  stroke="#222" stroke-width="0.3">Ø55</text>
<line x1="294.8" y1="533.5" x2="367" y2="533.5" stroke="#555" stroke-width="1" />
<line x1="302.3" y1="520.3" x2="302.3" y2="532" stroke="#222" stroke-width="1.0" />
<polygon points="302.3,533.2 300.7,528.2 303.90000000000003,528.2" fill="#111" stroke="none" stroke-width="0"/>
<line x1="247" y1="546.3" x2="271.5" y2="546.3" stroke="#555" stroke-width="1" />
<line x1="253.6" y1="527.8" x2="253.6" y2="545" stroke="#222" stroke-width="1.0" />
<polygon points="253.6,546 252.0,541 255.2,541" fill="#111" stroke="none" stroke-width="0"/>
<text x="292.9" y="552.7" font-family="Liberation Sans" font-size="15" text-anchor="middle" fill="#222" textLength="34" lengthAdjust="spacingAndGlyphs"  stroke="#222" stroke-width="0.3">Ø100</text>
<line x1="295.1" y1="559" x2="367" y2="559" stroke="#555" stroke-width="1" />
<line x1="302.2" y1="560.5" x2="302.2" y2="578.7" stroke="#333" stroke-width="1" />
<polygon points="302.2,559.3 300.59999999999997,564.3 303.8,564.3" fill="#111" stroke="none" stroke-width="0"/>
<text x="251.8" y="577.9" font-family="Liberation Sans" font-size="15.5" text-anchor="middle" fill="#222" textLength="24" lengthAdjust="spacingAndGlyphs"  stroke="#222" stroke-width="0.3">210</text>
<line x1="245.8" y1="598.5" x2="363" y2="598.5" stroke="#555" stroke-width="1" />
<line x1="253.8" y1="600" x2="253.8" y2="617.5" stroke="#333" stroke-width="1" />
<polygon points="253.8,598.8 252.20000000000002,603.8 255.4,603.8" fill="#111" stroke="none" stroke-width="0"/>
<line x1="501.9" y1="497.9" x2="557.4" y2="497.9" stroke="#555" stroke-width="1" />
<line x1="548.8" y1="499" x2="548.8" y2="540" stroke="#333" stroke-width="1" />
<polygon points="548.8,498.3 547.0999999999999,503.8 550.5,503.8" fill="#111" stroke="none" stroke-width="0"/>
<line x1="548.8" y1="559.4" x2="548.8" y2="597" stroke="#333" stroke-width="1" />
<polygon points="548.8,598.3 547.0999999999999,592.8 550.5,592.8" fill="#111" stroke="none" stroke-width="0"/>
<text x="548.3" y="554.3" font-family="Liberation Sans" font-size="15.5" text-anchor="middle" fill="#222" textLength="24" lengthAdjust="spacingAndGlyphs"  stroke="#222" stroke-width="0.3">400</text>
<line x1="430" y1="582.8" x2="521.9" y2="582.8" stroke="#222" stroke-width="1.1" />
<line x1="509.8" y1="564.3" x2="509.8" y2="581" stroke="#222" stroke-width="1.0" />
<polygon points="509.8,582.6 508.1,577.1 511.5,577.1" fill="#111" stroke="none" stroke-width="0"/>
<text x="496.9" y="578.7" font-family="Liberation Sans" font-size="15.5" text-anchor="middle" fill="#222" textLength="16.3" lengthAdjust="spacingAndGlyphs"  stroke="#222" stroke-width="0.3">46</text>
<line x1="474.3" y1="598.6" x2="558.1" y2="598.6" stroke="#555" stroke-width="1" />
<line x1="509.8" y1="600" x2="509.8" y2="619.4" stroke="#333" stroke-width="1" />
<polygon points="509.8,599 508.1,604.5 511.5,604.5" fill="#111" stroke="none" stroke-width="0"/>
<path d="M612.7,488.2 H703.4 V498.9 H612.7 Z" fill="#1a1a1a" stroke="none" stroke-width="0" />
<path d="M614,488.2 H702 Q703.6,488.2 703.6,490 V497.5 Q703.6,498.9 702,498.9 H614 Q612.5,498.9 612.5,497.5 V490 Q612.5,488.2 614,488.2 Z" fill="#1a1a1a" stroke="#111" stroke-width="0.6" />
<line x1="614.2" y1="490.6" x2="633.8" y2="490.6" stroke="#fff" stroke-width="1.0" />
<line x1="681.6" y1="490.6" x2="702" y2="490.6" stroke="#fff" stroke-width="1.0" />
<line x1="633.8" y1="490.6" x2="681.6" y2="490.6" stroke="#555" stroke-width="1.0" />
<line x1="614.2" y1="493.8" x2="702" y2="493.8" stroke="#fff" stroke-width="1.0" />
<line x1="614.2" y1="496.6" x2="702" y2="496.6" stroke="#fff" stroke-width="1.0" />
<line x1="614" y1="499" x2="621.1" y2="566.5" stroke="#111" stroke-width="1.8" />
<line x1="703" y1="499" x2="694.3" y2="565.8" stroke="#111" stroke-width="1.8" />
<circle cx="657.7" cy="512.7" r="7.2" fill="none" stroke="#111" stroke-width="1.5" stroke-dasharray="3 1.7"/>
<line x1="647.9" y1="512.7" x2="668.3" y2="512.7" stroke="#444" stroke-width="1" stroke-dasharray="3.5 1.5 1.5 1.5"/>
<line x1="657.7" y1="502.9" x2="657.7" y2="523.3" stroke="#444" stroke-width="1" stroke-dasharray="3.5 1.5 1.5 1.5"/>
<circle cx="657.65" cy="546.1" r="12.9" fill="none" stroke="#111" stroke-width="1.5" stroke-dasharray="3.6 2"/>
<line x1="641.3" y1="546.1" x2="673.7" y2="546.1" stroke="#444" stroke-width="1" stroke-dasharray="4 2 2 2"/>
<line x1="657.65" y1="530.6" x2="657.65" y2="562.6" stroke="#444" stroke-width="1" stroke-dasharray="4 2 2 2"/>
<circle cx="635.2" cy="521.3" r="2.2" fill="none" stroke="#111" stroke-width="1.2" />
<line x1="630.4000000000001" y1="521.3" x2="640.0" y2="521.3" stroke="#222" stroke-width="1.3" />
<line x1="635.2" y1="516.5" x2="635.2" y2="526.1" stroke="#222" stroke-width="1.3" />
<polygon points="630.4000000000001,521.3 632.2,520.0999999999999 632.2,522.5" fill="#111" stroke="none" stroke-width="0"/>
<polygon points="640.0,521.3 638.2,520.0999999999999 638.2,522.5" fill="#111" stroke="none" stroke-width="0"/>
<polygon points="635.2,516.5 634.0,518.3 636.4000000000001,518.3" fill="#111" stroke="none" stroke-width="0"/>
<polygon points="635.2,526.0999999999999 634.0,524.3 636.4000000000001,524.3" fill="#111" stroke="none" stroke-width="0"/>
<circle cx="680.2" cy="521.3" r="2.2" fill="none" stroke="#111" stroke-width="1.2" />
<line x1="675.4000000000001" y1="521.3" x2="685.0" y2="521.3" stroke="#222" stroke-width="1.3" />
<line x1="680.2" y1="516.5" x2="680.2" y2="526.1" stroke="#222" stroke-width="1.3" />
<polygon points="675.4000000000001,521.3 677.2,520.0999999999999 677.2,522.5" fill="#111" stroke="none" stroke-width="0"/>
<polygon points="685.0,521.3 683.2,520.0999999999999 683.2,522.5" fill="#111" stroke="none" stroke-width="0"/>
<polygon points="680.2,516.5 679.0,518.3 681.4000000000001,518.3" fill="#111" stroke="none" stroke-width="0"/>
<polygon points="680.2,526.0999999999999 679.0,524.3 681.4000000000001,524.3" fill="#111" stroke="none" stroke-width="0"/>
<line x1="705" y1="488.75" x2="773" y2="488.75" stroke="#555" stroke-width="1" />
<line x1="764.4" y1="490" x2="764.4" y2="538" stroke="#333" stroke-width="1" />
<polygon points="764.4,489.2 762.6999999999999,494.7 766.1,494.7" fill="#111" stroke="none" stroke-width="0"/>
<line x1="764.4" y1="552.8" x2="764.4" y2="565.6" stroke="#333" stroke-width="1" />
<text x="763.2" y="548.1" font-family="Liberation Sans" font-size="15" text-anchor="middle" fill="#222" textLength="22.6" lengthAdjust="spacingAndGlyphs"  stroke="#222" stroke-width="0.3">446</text>
<line x1="676.7" y1="512.6" x2="733.9" y2="512.6" stroke="#555" stroke-width="1" />
<line x1="726.1" y1="514" x2="726.1" y2="545" stroke="#333" stroke-width="1" />
<polygon points="726.1,513 724.4,518.5 727.8000000000001,518.5" fill="#111" stroke="none" stroke-width="0"/>
<text x="726.1" y="558.75" font-family="Liberation Sans" font-size="15" text-anchor="middle" fill="#222" textLength="21.8" lengthAdjust="spacingAndGlyphs"  stroke="#222" stroke-width="0.3">345</text>
<line x1="726.1" y1="563.5" x2="726.1" y2="566" stroke="#333" stroke-width="1" />
<path d="M644.8,589.7 V579.2 H757.2 V589.7" fill="none" stroke="#111" stroke-width="1.8" />
<path d="M644.8,616.9 V626.6 H757.2 V616.9" fill="none" stroke="#111" stroke-width="1.8" />
<text x="633.95" y="603.2" font-family="Liberation Sans" font-size="11.4" text-anchor="middle" fill="#111" stroke="#111" stroke-width="0.45">E</text>
<text x="643.8" y="603.2" font-family="Liberation Sans" font-size="11.4" text-anchor="middle" fill="#111" stroke="#111" stroke-width="0.45">L</text>
<text x="653.6" y="603.2" font-family="Liberation Sans" font-size="11.4" text-anchor="middle" fill="#111" stroke="#111" stroke-width="0.45">E</text>
<text x="662.6" y="603.2" font-family="Liberation Sans" font-size="11.4" text-anchor="middle" fill="#111" stroke="#111" stroke-width="0.45">C</text>
<text x="672.25" y="603.2" font-family="Liberation Sans" font-size="11.4" text-anchor="middle" fill="#111" stroke="#111" stroke-width="0.45">T</text>
<text x="684.4" y="603.2" font-family="Liberation Sans" font-size="11.4" text-anchor="middle" fill="#111" stroke="#111" stroke-width="0.45">R</text>
<text x="694.9" y="603.2" font-family="Liberation Sans" font-size="11.4" text-anchor="middle" fill="#111" stroke="#111" stroke-width="0.45">O</text>
<text x="713.85" y="603.2" font-family="Liberation Sans" font-size="11.4" text-anchor="middle" fill="#111" stroke="#111" stroke-width="0.45">M</text>
<text x="726.3" y="603.2" font-family="Liberation Sans" font-size="11.4" text-anchor="middle" fill="#111" stroke="#111" stroke-width="0.45">A</text>
<text x="737.05" y="603.2" font-family="Liberation Sans" font-size="11.4" text-anchor="middle" fill="#111" stroke="#111" stroke-width="0.45">R</text>
<text x="747.8" y="603.2" font-family="Liberation Sans" font-size="11.4" text-anchor="middle" fill="#111" stroke="#111" stroke-width="0.45">K</text>
<text x="759.25" y="603.2" font-family="Liberation Sans" font-size="11.4" text-anchor="middle" fill="#111" stroke="#111" stroke-width="0.45">E</text>
<text x="768.35" y="603.2" font-family="Liberation Sans" font-size="11.4" text-anchor="middle" fill="#111" stroke="#111" stroke-width="0.45">T</text>
<text x="700.7" y="608.9" font-family="Liberation Sans" font-size="3.3" text-anchor="middle" fill="#9a9a9a" textLength="101.9" lengthAdjust="spacingAndGlyphs" stroke="none">ИНТЕРНЕТ-МАГАЗИН</text>
<path d="M697.5,611.9 L697.5,620.5 L699.6,618.6 L701.5,622.3 L702.8,621.6 L700.9,618 L703.6,617.8 Z" fill="#111" stroke="none" stroke-width="0" />
</svg>
</body></html>
